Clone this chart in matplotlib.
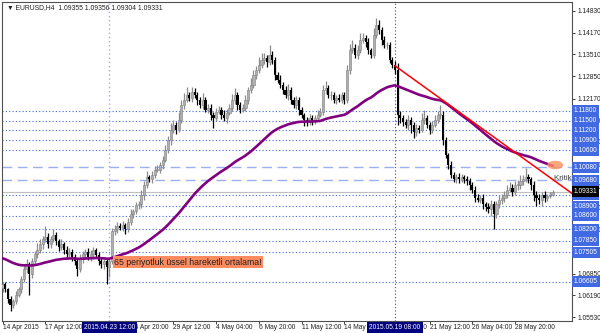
import numpy as np
import pandas as pd
import matplotlib.pyplot as plt
from matplotlib.patches import Ellipse

plt.rcParams['font.family'] = ['Liberation Sans', 'DejaVu Sans']

# EURUSD H4 candles, prices in pips (1.0652 -> 10652)
first_open = 10640
closes = [10652, 10637, 10607, 10589, 10601, 10619, 10637, 10668, 10698, 10713,
          10683, 10722, 10743, 10758, 10774, 10789, 10795, 10774, 10789, 10801,
          10783, 10765, 10774, 10758, 10743, 10752, 10734, 10722, 10698, 10728,
          10743, 10752, 10734, 10743, 10758, 10740, 10722, 10713, 10722, 10704,
          10722, 10813, 10819, 10831, 10825, 10834, 10819, 10843, 10865, 10874,
          10892, 10895, 10925, 10955, 10977, 10971, 10986, 11001, 11001, 11016,
          11031, 11061, 11092, 11122, 11137, 11122, 11152, 11198, 11213, 11228,
          11219, 11237, 11228, 11213, 11198, 11213, 11183, 11189, 11168, 11158,
          11177, 11183, 11168, 11158, 11174, 11189, 11213, 11228, 11198, 11183,
          11189, 11213, 11243, 11258, 11289, 11304, 11319, 11334, 11340, 11328,
          11349, 11334, 11289, 11274, 11258, 11243, 11228, 11243, 11213, 11198,
          11213, 11183, 11168, 11152, 11146, 11158, 11152, 11158, 11168, 11177,
          11243, 11249, 11228, 11228, 11213, 11219, 11213, 11228, 11213, 11304,
          11364, 11371, 11349, 11364, 11395, 11401, 11389, 11364, 11349, 11410,
          11440, 11425, 11395, 11380, 11380, 11334, 11319, 11304, 11168, 11158,
          11146, 11137, 11152, 11137, 11116, 11128, 11122, 11152, 11158, 11137,
          11122, 11137, 11152, 11168, 11168, 11092, 11046, 11016, 10986, 10971,
          10977, 10971, 10977, 10971, 10965, 10955, 10940, 10916, 10910, 10916,
          10895, 10886, 10880, 10895, 10865, 10895, 10910, 10916, 10925, 10940,
          10946, 10934, 10955, 10955, 10965, 10971, 10977, 10971, 10955, 10925,
          10916, 10910, 10925, 10916, 10922, 10925, 10933]
upper_wick = [8, 6, 5, 10, 8, 12, 6, 10, 12, 15,
              8, 10, 12, 20, 15, 10, 36, 12, 10, 20,
              10, 8, 15, 6, 10, 12, 8, 10, 6, 15,
              12, 8, 10, 15, 8, 6, 10, 12, 8, 6,
              8, 12, 15, 10, 8, 12, 6, 10, 15, 8,
              10, 12, 15, 10, 20, 8, 12, 10, 15, 8,
              10, 15, 12, 20, 15, 10, 25, 15, 20, 25,
              10, 15, 12, 8, 10, 20, 8, 12, 10, 8,
              10, 12, 8, 15, 10, 12, 18, 20, 10, 8,
              12, 15, 10, 20, 15, 12, 25, 20, 15, 10,
              31, 12, 10, 8, 15, 10, 12, 18, 8, 10,
              12, 10, 8, 6, 10, 12, 8, 10, 15, 12,
              15, 20, 10, 12, 8, 10, 12, 8, 10, 15,
              20, 25, 12, 15, 20, 15, 10, 12, 8, 20,
              21, 15, 10, 12, 8, 10, 8, 12, 20, 10,
              8, 10, 15, 8, 10, 12, 10, 20, 25, 10,
              8, 12, 15, 10, 30, 10, 8, 6, 10, 8,
              12, 15, 10, 8, 12, 10, 8, 10, 12, 8,
              10, 8, 12, 15, 10, 12, 15, 10, 12, 15,
              18, 10, 12, 15, 20, 15, 30, 12, 8, 10,
              10, 12, 8, 10, 6, 8, 5]
lower_wick = [10, 8, 12, 19, 10, 8, 6, 10, 8, 12,
              64, 10, 8, 12, 10, 15, 8, 10, 12, 8,
              10, 12, 8, 15, 10, 8, 12, 10, 20, 8,
              10, 12, 8, 10, 15, 8, 12, 10, 15, 50,
              30, 8, 10, 12, 8, 10, 15, 8, 10, 12,
              8, 10, 12, 15, 10, 8, 12, 10, 8, 10,
              12, 8, 10, 15, 10, 12, 8, 10, 12, 8,
              10, 12, 8, 15, 10, 12, 8, 10, 15, 30,
              10, 8, 12, 10, 15, 8, 10, 12, 15, 10,
              8, 10, 12, 8, 10, 12, 8, 10, 12, 15,
              10, 12, 15, 10, 8, 12, 10, 15, 12, 10,
              12, 15, 10, 18, 12, 10, 15, 12, 10, 8,
              10, 12, 8, 15, 10, 12, 8, 10, 12, 10,
              12, 8, 10, 12, 8, 10, 15, 12, 10, 8,
              10, 12, 15, 10, 12, 8, 10, 12, 30, 15,
              12, 10, 15, 25, 20, 12, 10, 8, 12, 10,
              12, 10, 8, 10, 12, 15, 10, 12, 10, 8,
              10, 12, 8, 10, 12, 15, 10, 12, 8, 10,
              15, 12, 10, 20, 46, 12, 10, 15, 12, 10,
              8, 12, 10, 15, 12, 10, 8, 12, 15, 20,
              25, 15, 20, 12, 10, 8, 3]
ema_seed = 10734
ema_period = 65

levels_dotted = [1.11800, 1.11500, 1.11200, 1.10900, 1.10600, 1.09250,
                 1.08900, 1.08600, 1.08200, 1.07850, 1.07505, 1.06605]
levels_dashed = [1.10080, 1.09680]
last_price = 1.09331
quote = 'EURUSD,H4  1.09355 1.09356 1.09304 1.09331'

yticks = [1.14830, 1.14170, 1.13510, 1.12850, 1.12170, 1.11510, 1.10850,
          1.10170, 1.09510, 1.08850, 1.08190, 1.07510, 1.06850, 1.06190, 1.05530]
xtick_pos = [0, 16, 32, 48, 64, 80, 96, 112, 128, 144, 160, 176, 192]
xtick_labels = ['14 Apr 2015', '17 Apr 12:00', '22 Apr 04:00', '24 Apr 20:00',
                '29 Apr 12:00', '4 May 04:00', '6 May 20:00', '11 May 12:00',
                '14 May 04:00', '18 May 20:00', '21 May 12:00', '26 May 04:00',
                '28 May 20:00']
vline_bars = [40, 147]
vline_labels = ['2015.04.23 12:00', '2015.05.19 08:00']
trend_bars = [147, 214]
trend_prices = [1.13164, 1.09245]
ma_note = '65 periyotluk üssel hareketli ortalama!'
crit_note = 'Kritik seviye'

c = np.array(closes) / 10000
o = np.r_[first_open, closes[:-1]] / 10000
hi = np.maximum(o, c) + np.array(upper_wick) / 10000
lo = np.minimum(o, c) - np.array(lower_wick) / 10000
bars = np.arange(len(c))
up = c >= o
ema = pd.Series([ema_seed] + closes).ewm(span=ema_period, adjust=False).mean().iloc[1:] / 10000

fig = plt.figure(figsize=(6, 3.33), dpi=100)
ax = fig.add_axes([2 / 600, 12 / 333, 570 / 600, 319 / 333])
ax.set_xlim(-0.2, 213.3)
ax.set_ylim(1.05409, 1.15103)

for lv in levels_dotted:
    ax.axhline(lv, color='#4169e1', lw=0.8, ls=(0, (1, 2)), zorder=1)
for lv in levels_dashed:
    ax.axhline(lv, color='#9cb0f0', lw=1.0, ls=(0, (7, 4)), zorder=1)
ax.axhline(last_price, color='#c0c0c0', lw=0.8, zorder=1)
ax.axvline(vline_bars[0], color='#a8a8e8', lw=1.0, ls=(0, (1, 2)), zorder=1)
ax.axvline(vline_bars[1], color='#3c3cc8', lw=0.8, ls=(0, (1, 2)), zorder=1)

ax.vlines(bars[up], lo[up], hi[up], color='#8c8c8c', lw=0.9, zorder=3)
ax.vlines(bars[~up], lo[~up], hi[~up], color='#000000', lw=0.9, zorder=3)
body = np.maximum(np.abs(c - o), 0.00008)
ax.bar(bars[up], body[up], bottom=np.minimum(o, c)[up], width=0.8,
       color='#b0b0b0', edgecolor='#808080', lw=0.4, zorder=4)
ax.bar(bars[~up], body[~up], bottom=np.minimum(o, c)[~up], width=0.8,
       color='#000000', lw=0, zorder=4)

ax.plot(bars, ema, color='#800080', lw=1.9, zorder=5)
ax.plot(trend_bars, trend_prices, color='#ff0000', lw=1.1, zorder=6)
ax.add_patch(Ellipse((bars[-1] + 1, ema.iloc[-1] + 0.0002), 6, 0.0026,
                     color='#ff9060', alpha=0.8, lw=0, zorder=6))
ax.text(bars[-1] + 0.5, 1.0975, crit_note, fontsize=5.8, color='#404040',
        va='center', ha='left', zorder=7)
ax.text(41.8, 1.0720, ma_note, fontsize=6.3, color='#202020', va='center',
        ha='left', zorder=7,
        bbox=dict(boxstyle='square,pad=0.15', fc='#ff8c60', ec='none'))
ax.text(0.008, 0.984, '\u25bc ' + quote, transform=ax.transAxes, fontsize=4.9,
        color='#202020', va='center', ha='left')

ax.yaxis.tick_right()
ax.set_yticks(yticks, [f'{v:.5f}' for v in yticks])
ax.tick_params(axis='y', length=2.5, width=0.6, pad=1.5, labelsize=4.8,
               colors='#202020')
ax.set_xticks(xtick_pos, xtick_labels, ha='left')
ax.tick_params(axis='x', length=2, width=0.6, pad=0.5, labelsize=4.8,
               colors='#202020')
for sp in ax.spines.values():
    sp.set_color('#505050')
    sp.set_linewidth(0.8)

for lv in levels_dotted + levels_dashed:
    ax.text(1.003, lv, f'{lv:.5f}', transform=ax.get_yaxis_transform(),
            fontsize=4.8, color='white', va='center', ha='left', clip_on=False,
            zorder=10, bbox=dict(boxstyle='square,pad=0.3', fc='#4169e1', ec='none'))
ax.text(1.003, last_price, f'{last_price:.5f}', transform=ax.get_yaxis_transform(),
        fontsize=4.8, color='white', va='center', ha='left', clip_on=False,
        zorder=11, bbox=dict(boxstyle='square,pad=0.3', fc='#000000', ec='none'))
for b, lab in zip(vline_bars, vline_labels):
    ax.text(b, -0.009, lab, transform=ax.get_xaxis_transform(), fontsize=4.8,
            color='white', va='top', ha='center', clip_on=False, zorder=10,
            bbox=dict(boxstyle='square,pad=0.3', fc='#000080', ec='none'))

fig.savefig('out.png', dpi=100)
